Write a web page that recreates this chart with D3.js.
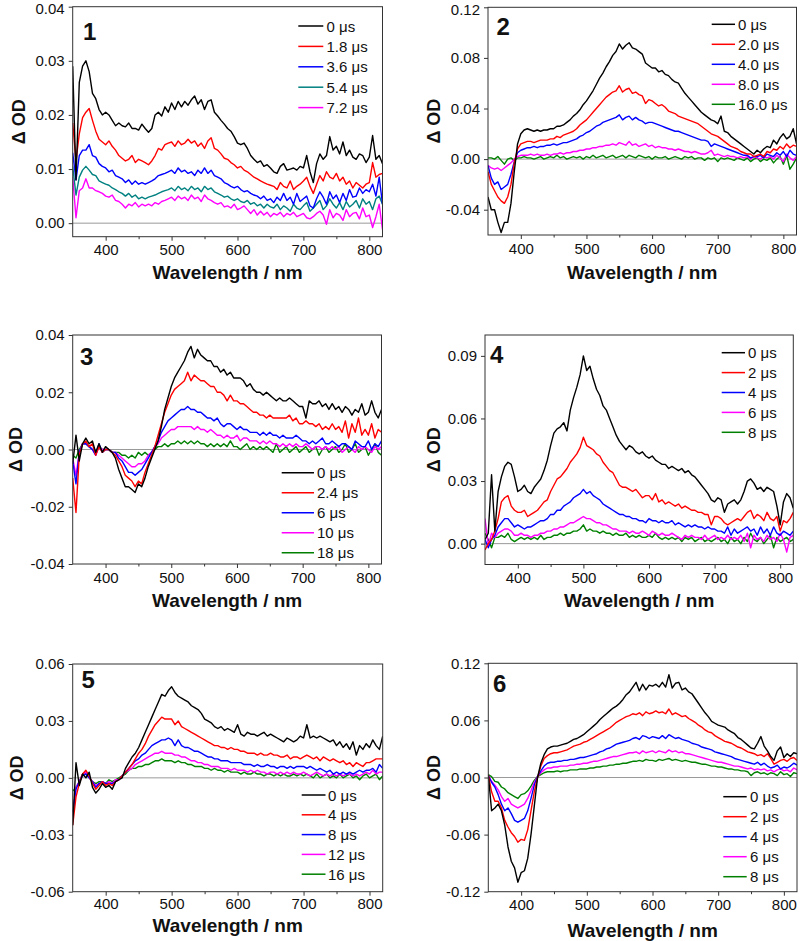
<!DOCTYPE html>
<html><head><meta charset="utf-8">
<script src="https://cdn.jsdelivr.net/npm/d3@7"></script>
<style>
body{margin:0;background:#fff;}
text{font-family:"Liberation Sans",Arial,sans-serif;fill:#111;}
</style></head><body>
<svg id="chart" width="800" height="941"></svg>
<script>
// ---------- DATA ----------
const wavelength = [350,355,360,365,370,375,380,385,390,395,400,405,410,415,420,425,430,435,440,445,450,455,460,465,470,475,480,485,490,495,500,505,510,515,520,525,530,535,540,545,550,555,560,565,570,575,580,585,590,595,600,605,610,615,620,625,630,635,640,645,650,655,660,665,670,675,680,685,690,695,700,705,710,715,720,725,730,735,740,745,750,755,760,765,770,775,780,785,790,795,800,805,810,815,820];
const xTicks = [400,500,600,700,800];
const xMinorTicks = [450,550,650,750];

// Panel 1
const p1Labels = ["0 μs","1.8 μs","3.6 μs","5.4 μs","7.2 μs"];
const p1YTicks = [0,0.01,0.02,0.03,0.04];
const p1_0 = [.029,.008,.026,.029,.030,.028,.024,.023,.021,.020,
.0205,.020,.019,.018,.0185,.018,.0178,.0185,.0175,.0175,
.0172,.0183,.0175,.0168,.0175,.020,.0205,.0198,.0215,.0205,
.0222,.021,.0225,.0215,.0225,.0218,.0228,.0235,.022,.0228,
.021,.0225,.0228,.0205,.0198,.019,.0183,.0175,.017,.016,
.0148,.0145,.0148,.0138,.0125,.0118,.0112,.0115,.0105,.0108,
.0102,.0095,.0092,.0105,.011,.0098,.010,.0102,.0098,.0105,
.0102,.0125,.0095,.0075,.011,.0128,.0118,.0125,.016,.0135,
.0142,.0128,.015,.0125,.0135,.0122,.0118,.0128,.0125,.0112,
.0122,.0162,.0118,.0125,.011];
const p1_1 = [.0185,.0115,.0165,.0195,.0205,.0212,.019,.017,.0155,.015,
.0145,.0152,.0142,.0135,.0125,.012,.0115,.0118,.0125,.0112,
.0118,.0115,.0112,.0108,.0115,.0125,.0138,.0135,.0145,.0148,
.015,.0142,.0152,.0145,.0148,.0155,.0148,.0152,.0142,.0148,
.0138,.0152,.0158,.0138,.0135,.0128,.012,.0118,.0112,.0108,
.0102,.0105,.0098,.0095,.009,.0085,.0082,.0078,.0075,.0072,
.007,.0068,.0062,.0075,.0068,.0065,.0078,.0062,.0068,.0072,
.0078,.0085,.0068,.0055,.0072,.0088,.0078,.0095,.0085,.0082,
.0092,.0078,.0085,.0072,.0078,.0065,.0075,.007,.0065,.0072,
.0075,.0112,.0085,.009,.0092];
const p1_2 = [.013,.008,.0125,.0135,.0135,.0145,.0125,.0122,.011,.0105,
.0102,.0095,.0098,.0088,.0085,.0082,.0075,.008,.0072,.0078,
.0072,.0075,.0072,.0075,.0078,.0082,.0088,.009,.0092,.0095,
.0098,.0092,.0102,.0095,.0098,.0092,.0095,.0088,.0098,.0092,
.0102,.0092,.0098,.0088,.0085,.0082,.0075,.0072,.0068,.0065,
.0068,.0062,.0058,.006,.0055,.0052,.005,.0045,.005,.0042,
.0045,.0038,.0048,.0042,.0055,.0042,.0048,.0035,.0055,.004,
.0045,.005,.0032,.0028,.0045,.0058,.0048,.0035,.0058,.0045,
.0052,.0038,.0055,.0042,.0062,.0048,.005,.0065,.0055,.0062,
.0058,.0072,.005,.0085,.0035];
const p1_3 = [.0105,.0052,.0085,.0098,.0105,.0098,.009,.0088,.0078,.0075,
.0072,.007,.0065,.0062,.0058,.0055,.005,.0055,.0048,.0052,
.0045,.0048,.0045,.0048,.005,.0052,.0055,.0058,.006,.0062,
.0065,.006,.0068,.0062,.0065,.006,.0068,.0062,.0065,.0058,
.0068,.0062,.0065,.0058,.0055,.0052,.0048,.005,.0045,.0042,
.0045,.004,.0038,.0042,.0035,.0038,.0032,.0035,.0028,.0035,
.003,.0028,.0035,.0025,.0032,.0028,.0022,.0035,.0028,.0025,
.0032,.0038,.0022,.0028,.0035,.0042,.0025,.0032,.0045,.0035,
.0028,.0038,.0025,.004,.003,.0035,.0042,.0028,.0045,.0035,
.004,.0025,.0045,.005,.0035];
const p1_4 = [.0085,.001,.006,.0065,.0082,.0065,.0065,.006,.0058,.0055,
.005,.0048,.0052,.0042,.004,.0035,.0028,.0035,.0032,.0038,
.003,.0035,.0032,.0035,.0032,.0038,.0035,.004,.0042,.0045,
.0048,.0042,.005,.0045,.0048,.0042,.0052,.0045,.0048,.004,
.0052,.0045,.0042,.0038,.0035,.0038,.003,.0032,.0028,.0035,
.0025,.0028,.0032,.0025,.0018,.0025,.0015,.0022,.0015,.002,
.0012,.0018,.0015,.002,.0012,.0018,.0015,.002,.0012,.0015,
.0018,.001,.0008,.0012,.0018,.0022,.0015,-.0002,.0025,.001,
.0018,.0015,.0005,.0025,.0012,.0018,.002,.0008,.0028,.0012,
.0015,-.0008,.0012,.0035,-.0012];

// Panel 2
const p2Labels = ["0 μs","2.0 μs","4.0 μs","8.0 μs","16.0 μs"];
const p2YTicks = [-0.04,0,0.04,0.08,0.12];
const p2_0 = [-.03,-.04,-.04,-.05,-.058,-.05,-.05,-.035,-.01,.012,
.02,.023,.024,.023,.022,.023,.022,.023,.023,.024,
.024,.026,.026,.027,.029,.031,.034,.036,.039,.043,
.046,.05,.054,.059,.064,.068,.073,.077,.082,.085,
.091,.087,.09,.092,.088,.087,.085,.083,.076,.074,
.072,.072,.069,.07,.067,.066,.063,.061,.06,.056,
.052,.049,.046,.043,.04,.037,.035,.033,.031,.03,
.028,.034,.022,.021,.018,.016,.014,.012,.01,.008,
.006,.004,.007,.005,.008,.01,.009,.015,.012,.017,
.02,.016,.018,.024,.012];
const p2_1 = [-.01,-.02,-.025,-.03,-.033,-.035,-.03,-.02,-.003,.008,
.012,.013,.014,.014,.013,.014,.015,.015,.015,.016,
.016,.018,.017,.019,.02,.021,.022,.024,.027,.029,
.031,.034,.037,.04,.043,.046,.049,.051,.053,.054,
.058,.053,.055,.056,.052,.053,.051,.05,.044,.047,
.046,.044,.042,.043,.041,.038,.037,.036,.034,.033,
.032,.031,.03,.029,.028,.026,.024,.022,.02,.019,
.018,.016,.014,.012,.01,.009,.008,.006,.005,.004,
.004,.002,.003,.004,.002,.006,.005,.008,.007,.01,
.008,.012,.009,.011,.01];
const p2_2 = [-.005,-.015,-.02,-.018,-.024,-.022,-.02,-.012,-.002,.005,
.007,.008,.009,.009,.01,.009,.01,.01,.011,.011,
.012,.011,.012,.013,.013,.014,.015,.016,.018,.019,
.021,.022,.024,.026,.027,.029,.03,.031,.032,.033,
.035,.031,.033,.034,.031,.033,.031,.03,.028,.029,
.029,.028,.027,.026,.025,.024,.023,.022,.022,.021,
.02,.019,.018,.017,.016,.015,.015,.014,.01,.012,
.011,.01,.009,.008,.007,.006,.005,.004,.003,.003,
.001,.002,.002,.003,.001,.004,.003,.002,.005,.003,
.006,.002,.007,.004,.003];
const p2_3 = [-.005,-.007,-.008,-.007,-.009,-.007,-.005,-.003,0,.002,
.003,.003,.003,.004,.003,.004,.003,.003,.004,.003,
.004,.004,.005,.004,.005,.005,.006,.006,.007,.007,
.008,.008,.009,.009,.01,.01,.011,.011,.012,.011,
.013,.012,.011,.014,.011,.012,.01,.011,.012,.01,
.011,.009,.01,.009,.009,.008,.008,.007,.008,.007,
.006,.006,.005,.006,.005,.004,.004,.005,.007,.003,
.004,.003,.002,.003,.002,.002,.001,.002,.001,.002,
0,.002,.001,0,.002,.001,.002,0,.003,.001,
-.002,.004,.001,-.001,.002];
const p2_4 = [.001,.001,0,.002,-.001,-.004,0,.001,-.001,.001,
.001,.002,.001,.001,0,.001,.002,0,.001,.002,
.001,.003,.001,.002,0,.001,.002,.001,.002,0,
.002,.001,.003,.001,.002,.003,.001,.002,.003,.001,
.002,.003,.001,.003,.002,.001,.003,.002,.001,.002,
0,.002,.001,.001,.002,0,.001,.002,.001,0,
.002,.001,.002,0,.001,.001,-.001,.001,0,.001,
-.002,.001,0,.001,0,-.001,.001,0,-.001,.001,
-.002,0,.001,-.002,0,-.001,.001,-.003,0,.002,
-.004,.003,-.008,-.004,.001];

// Panel 3
const p3Labels = ["0 μs","2.4 μs","6 μs","10 μs","18 μs"];
const p3YTicks = [-0.04,-0.02,0,0.02,0.04];
const p3_0 = [-.005,.005,-.004,.002,.004,.002,.003,-.001,.002,-.001,
.001,0,-.001,-.003,-.007,-.01,-.013,-.013,-.014,-.015,
-.012,-.013,-.01,-.006,-.003,0,.003,.008,.014,.018,
.022,.025,.027,.029,.031,.034,.036,.032,.035,.033,
.032,.031,.031,.029,.029,.027,.028,.026,.027,.025,
.025,.025,.024,.022,.023,.021,.02,.02,.019,.02,
.019,.018,.017,.018,.017,.017,.018,.017,.016,.015,
.015,.011,.017,.016,.016,.017,.015,.016,.014,.016,
.014,.015,.013,.015,.014,.012,.014,.013,.016,.012,
.013,.017,.013,.011,.014];
const p3_1 = [-.01,-.022,-.002,.002,.003,.001,.002,-.002,.001,-.001,
0,0,-.001,-.002,-.004,-.006,-.009,-.01,-.011,-.013,
-.011,-.012,-.008,-.005,-.002,.001,.005,.009,.013,.016,
.019,.021,.022,.023,.024,.027,.024,.026,.025,.024,
.024,.023,.022,.022,.02,.02,.019,.017,.019,.017,
.017,.016,.016,.015,.014,.013,.013,.012,.012,.011,
.012,.011,.011,.011,.011,.011,.012,.01,.011,.009,
.009,.01,.009,.009,.008,.009,.007,.008,.007,.009,
.007,.008,.006,.01,.004,.009,.006,.011,.005,.007,
.005,.009,.004,.007,.006];
const p3_2 = [-.004,-.012,-.001,.002,.002,.001,0,-.002,.002,-.001,
0,0,-.001,-.001,-.003,-.004,-.006,-.008,-.008,-.009,
-.008,-.007,-.005,-.003,-.001,.001,.003,.006,.008,.01,
.011,.012,.013,.014,.014,.015,.014,.014,.013,.013,
.012,.011,.011,.01,.011,.009,.008,.009,.009,.008,
.007,.008,.007,.007,.006,.006,.006,.005,.006,.005,
.006,.005,.005,.004,.005,.004,.004,.004,.005,.004,
.003,.003,.002,.003,.002,.003,.004,.002,.002,.003,
.002,.001,.002,.002,.001,0,.003,.002,.001,.001,
.003,0,.002,.001,.003];
const p3_3 = [-.003,-.009,-.001,.002,.002,.001,0,-.002,.001,0,
0,0,-.001,-.001,-.002,-.003,-.004,-.005,-.006,-.006,
-.005,-.005,-.004,-.002,-.001,.001,.002,.004,.005,.006,
.007,.007,.008,.008,.008,.008,.008,.007,.008,.007,
.007,.006,.007,.006,.005,.005,.004,.005,.004,.004,
.005,.003,.004,.004,.003,.003,.003,.002,.003,.002,
.003,.002,.002,.001,.002,.001,.002,.001,.002,.001,
.001,.002,.001,0,.001,.001,0,.001,0,.001,
0,.001,-.001,0,.001,0,-.001,.001,0,.001,
0,-.001,.001,0,.001];
const p3_4 = [-.002,-.003,0,.002,.002,.001,0,-.001,.001,0,
0,0,-.001,-.001,-.001,-.002,-.002,-.003,-.002,-.003,
-.001,-.002,-.001,-.002,-.001,0,.001,.001,.002,.001,
.002,.002,.003,.002,.003,.002,.003,.002,.003,.002,
.002,.001,.002,.001,.002,.001,.002,.001,.003,.001,
.001,0,.001,.002,0,.001,0,.001,0,.001,
0,-.001,.002,-.001,0,.001,-.001,0,.001,-.001,
0,.001,-.001,0,.001,-.002,0,.001,-.001,0,
.001,-.001,0,.002,-.001,0,.002,-.001,0,.001,
-.002,0,.002,-.001,-.002];

// Panel 4
const p4Labels = ["0 μs","2 μs","4 μs","6 μs","8 μs"];
const p4YTicks = [0,0.03,0.06,0.09];
const p4_0 = [.002,.005,.033,.006,.025,.032,.037,.039,.038,.032,
.025,.026,.028,.025,.024,.027,.029,.031,.035,.04,
.047,.053,.055,.056,.058,.054,.064,.07,.075,.081,
.09,.083,.085,.079,.074,.071,.066,.064,.06,.056,
.052,.049,.047,.045,.047,.046,.044,.043,.044,.042,
.041,.042,.04,.039,.038,.038,.036,.037,.036,.035,
.036,.034,.035,.033,.032,.03,.028,.026,.024,.021,
.02,.022,.021,.015,.019,.02,.021,.019,.021,.025,
.03,.031,.029,.026,.027,.025,.027,.026,.025,.018,
.009,.02,.024,.022,.017];
const p4_1 = [-.003,0,.002,.006,.012,.02,.022,.023,.018,.016,
.015,.015,.016,.013,.014,.015,.016,.018,.02,.021,
.025,.028,.031,.032,.034,.036,.039,.041,.043,.046,
.051,.047,.046,.045,.043,.042,.039,.037,.035,.034,
.031,.028,.027,.027,.026,.025,.026,.024,.022,.023,
.023,.021,.024,.02,.021,.019,.02,.019,.018,.019,
.017,.018,.017,.016,.016,.015,.015,.014,.014,.009,
.013,.013,.012,.01,.009,.01,.011,.012,.011,.013,
.015,.016,.012,.014,.013,.011,.015,.012,.011,.013,
.006,.011,.01,.012,.015];
const p4_2 = [.002,-.002,.002,.004,.008,.01,.012,.012,.01,.008,
.009,.008,.007,.008,.008,.009,.01,.011,.011,.012,
.014,.014,.016,.016,.018,.019,.02,.022,.023,.024,
.026,.024,.025,.023,.022,.021,.019,.018,.017,.016,
.015,.014,.014,.013,.013,.012,.012,.011,.011,.01,
.012,.011,.011,.01,.011,.01,.01,.011,.009,.01,
.009,.008,.009,.008,.009,.008,.008,.007,.008,.007,
.007,.006,.006,.005,.008,.004,.007,.005,.006,.007,
.008,.006,.007,.004,.008,.005,.007,.004,.008,.005,
.004,.006,.005,.004,.006];
const p4_3 = [.012,-.001,.005,.003,.005,.006,.007,.007,.006,.004,
.004,.005,.004,.004,.003,.004,.004,.005,.005,.006,
.006,.007,.007,.008,.008,.009,.01,.01,.011,.012,
.013,.012,.012,.011,.01,.01,.009,.009,.008,.007,
.007,.006,.006,.006,.005,.006,.005,.005,.006,.005,
.004,.006,.005,.004,.005,.004,.004,.005,.004,.003,
.002,.004,.003,.004,.003,.003,.002,.004,.002,.003,
.004,.002,.003,.002,.004,.002,.003,.002,.004,.001,
.005,-.002,.004,.002,.003,.001,.004,.002,.003,.001,
.005,.002,-.004,.003,.004];
const p4_4 = [.005,.002,-.002,.003,.003,.004,.003,.005,.002,.001,
.002,.003,.002,.003,.002,.003,.002,.004,.002,.003,
.003,.004,.004,.005,.004,.005,.005,.006,.006,.007,
.009,.006,.007,.006,.006,.005,.006,.005,.005,.004,
.005,.004,.004,.005,.003,.004,.003,.004,.003,.003,
.004,.003,.005,.003,.002,.003,.002,.003,.002,.003,
.001,.003,.002,.003,.001,.002,.003,.001,.002,.001,
.002,.003,.001,.002,0,.003,.001,.002,0,.003,
.001,.005,.002,.001,.003,0,.002,.004,-.002,.003,
.001,.002,.003,.001,.002];

// Panel 5
const p5Labels = ["0 μs","4 μs","8 μs","12 μs","16 μs"];
const p5YTicks = [-0.06,-0.03,0,0.03,0.06];
const p5_0 = [-.025,.008,-.004,.002,0,.003,-.005,-.008,-.006,-.003,
-.005,-.004,-.006,-.002,-.001,0,.005,.008,.011,.013,
.016,.02,.024,.028,.032,.036,.04,.044,.043,.046,
.048,.045,.043,.042,.041,.04,.038,.037,.036,.034,
.031,.03,.029,.027,.026,.027,.025,.026,.025,.024,
.028,.023,.022,.024,.023,.023,.022,.023,.024,.022,
.023,.022,.021,.02,.019,.021,.02,.019,.02,.022,
.021,.028,.021,.022,.021,.022,.021,.02,.019,.02,
.017,.019,.016,.018,.015,.019,.012,.017,.015,.018,
.016,.02,.017,.015,.022];
const p5_1 = [-.025,-.01,-.003,.002,.004,.001,-.003,-.006,-.004,-.002,
-.004,-.003,-.004,-.002,-.001,.001,.003,.005,.007,.01,
.013,.015,.018,.022,.025,.028,.03,.032,.031,.031,
.031,.028,.03,.027,.026,.025,.024,.023,.022,.021,
.02,.019,.018,.017,.017,.016,.016,.015,.016,.015,
.015,.014,.014,.013,.013,.013,.012,.013,.012,.012,
.013,.012,.012,.011,.011,.012,.01,.011,.011,.01,
.011,.012,.011,.01,.011,.009,.011,.01,.009,.01,
.009,.008,.009,.007,.008,.006,.008,.007,.006,.008,
.008,.009,.01,.01,.01];
const p5_2 = [-.018,-.006,-.002,.001,.002,0,-.002,-.005,-.003,-.002,
-.003,-.003,-.003,-.002,-.001,.001,.003,.005,.007,.009,
.01,.012,.013,.015,.017,.018,.019,.02,.02,.021,
.02,.017,.02,.017,.016,.016,.015,.014,.014,.013,
.012,.011,.011,.01,.01,.009,.009,.009,.008,.008,
.008,.008,.007,.007,.007,.006,.007,.006,.006,.007,
.006,.006,.005,.006,.006,.005,.006,.005,.006,.006,
.006,.005,.006,.005,.004,.005,.004,.003,.004,.002,
.003,.002,.003,.002,.003,.002,.003,.004,.003,.004,
.004,.005,.003,.007,.005];
const p5_3 = [-.02,-.005,-.002,.002,.003,0,-.002,-.004,-.003,-.002,
-.003,-.002,-.003,-.001,-.001,.001,.003,.004,.005,.007,
.008,.009,.01,.011,.012,.013,.013,.014,.013,.013,
.013,.012,.012,.011,.011,.01,.009,.009,.008,.008,
.007,.007,.006,.006,.006,.005,.005,.005,.004,.005,
.004,.004,.004,.003,.004,.003,.004,.003,.003,.002,
.003,.003,.002,.003,.002,.003,.002,.003,.002,.002,
.003,.002,.001,.002,.003,.002,.001,.002,.001,.002,
.001,.002,.001,.002,.002,.001,.002,.001,.002,.003,
.002,.004,.002,.003,.003];
const p5_4 = [-.007,-.005,-.002,.002,.002,0,-.002,-.003,-.002,-.002,
-.003,-.001,-.002,-.001,0,.001,.002,.004,.005,.005,
.006,.006,.007,.007,.008,.009,.009,.01,.009,.009,
.009,.008,.009,.008,.008,.007,.007,.006,.006,.006,
.005,.005,.004,.005,.004,.004,.003,.004,.003,.003,
.003,.002,.003,.002,.002,.003,.002,.002,.001,.002,
.002,.001,.002,.001,.002,.001,.001,.002,.001,.002,
.001,.002,.001,0,.002,0,.001,.002,0,.001,
0,.002,0,.001,.002,0,.001,-.001,.001,.002,
0,.001,.002,-.001,.001];

// Panel 6
const p6Labels = ["0 μs","2 μs","4 μs","6 μs","8 μs"];
const p6YTicks = [-0.12,-0.06,0,0.06,0.12];
const p6_0 = [.003,-.035,-.032,-.028,-.035,-.05,-.073,-.088,-.095,-.11,
-.1,-.098,-.085,-.06,-.03,0,.015,.024,.03,.032,
.033,.033,.034,.035,.036,.038,.04,.041,.043,.045,
.048,.051,.054,.057,.061,.064,.067,.07,.073,.075,
.078,.082,.087,.09,.095,.1,.091,.098,.092,.097,
.096,.098,.095,.1,.095,.108,.094,.099,.1,.092,
.094,.09,.088,.083,.078,.073,.068,.064,.059,.057,
.055,.054,.053,.05,.048,.046,.042,.04,.037,.034,
.031,.03,.036,.043,.033,.028,.022,.018,.028,.032,
.021,.025,.022,.026,.025];
const p6_1 = [.003,-.015,-.025,-.025,-.032,-.045,-.052,-.058,-.062,-.068,
-.065,-.066,-.055,-.035,-.015,0,.012,.02,.023,.025,
.026,.026,.027,.028,.029,.031,.033,.034,.035,.037,
.038,.04,.042,.044,.046,.048,.05,.052,.055,.058,
.06,.062,.064,.065,.067,.066,.068,.065,.069,.067,
.068,.07,.068,.069,.067,.072,.066,.068,.066,.064,
.065,.062,.06,.058,.055,.053,.05,.048,.047,.044,
.042,.04,.038,.037,.036,.034,.032,.031,.029,.027,
.026,.025,.023,.024,.022,.025,.02,.014,.016,.018,
.019,.017,.02,.021,.018];
const p6_2 = [.002,-.005,-.01,-.018,-.028,-.035,-.032,-.038,-.045,-.047,
-.045,-.043,-.035,-.022,-.008,.001,.007,.012,.015,.016,
.016,.017,.017,.018,.018,.019,.019,.02,.021,.021,
.022,.023,.024,.025,.027,.028,.03,.031,.033,.035,
.036,.037,.038,.039,.041,.042,.04,.044,.043,.041,
.043,.042,.041,.044,.041,.045,.043,.041,.042,.04,
.039,.038,.036,.035,.034,.032,.031,.03,.029,.027,
.026,.025,.024,.023,.022,.02,.019,.018,.017,.016,
.015,.014,.016,.013,.015,.012,.01,.011,.013,.009,
.011,.01,.012,.015,.013];
const p6_3 = [.002,-.004,-.008,-.013,-.02,-.025,-.022,-.028,-.03,-.032,
-.03,-.028,-.022,-.014,-.005,.001,.005,.008,.01,.01,
.011,.011,.012,.012,.012,.013,.013,.014,.014,.015,
.015,.016,.017,.017,.018,.019,.02,.021,.022,.022,
.023,.024,.025,.026,.026,.027,.025,.028,.026,.027,
.028,.026,.028,.027,.026,.029,.027,.028,.026,.027,
.025,.025,.024,.023,.022,.021,.02,.019,.018,.017,
.016,.016,.015,.014,.013,.012,.012,.011,.01,.009,
.01,.008,.009,.008,.009,.007,.008,.006,.008,.009,
.007,.008,.006,.01,.008];
const p6_4 = [.003,.001,-.004,-.005,-.01,-.012,-.016,-.018,-.02,-.022,
-.018,-.017,-.014,-.009,-.003,.001,.003,.005,.006,.006,
.006,.007,.006,.007,.007,.008,.008,.008,.009,.009,
.009,.01,.01,.011,.011,.012,.012,.013,.013,.014,
.014,.015,.015,.016,.017,.017,.018,.017,.019,.018,
.018,.017,.019,.018,.019,.02,.018,.019,.018,.017,
.018,.017,.016,.016,.015,.014,.014,.013,.012,.012,
.011,.011,.01,.009,.009,.008,.008,.007,.007,.006,
.002,.005,.006,.004,.005,.003,.005,.004,.002,.006,
.003,.004,.001,.005,.004];

// ---------- STYLE / LAYOUT ----------
const colorsP1 = ["#000000","#ff0000","#0000ff","#008080","#ff00ff"];
const colorsStd = ["#000000","#ff0000","#0000ff","#ff00ff","#008000"];

const panels = [
 {num:"1", L:72.7, R:382.5, T:6.7, B:236.7, yDom:[-0.0025,0.04], yTicks:p1YTicks,
  series:[p1_0,p1_1,p1_2,p1_3,p1_4], labels:p1Labels, colors:colorsP1,
  leg:{x1:298.3,x2:323.3,tx:326.5,y0:26,dy:20.4}, numPos:[83,40], ylabX:19, xlabY:279, xpad:4},
 {num:"2", L:488, R:796.5, T:7.3, B:235, yDom:[-0.06,0.12], yTicks:p2YTicks,
  series:[p2_0,p2_1,p2_2,p2_3,p2_4], labels:p2Labels, colors:colorsStd,
  leg:{x1:711.7,x2:735,tx:738,y0:24.3,dy:20}, numPos:[496.5,35], ylabX:434, xlabY:278.5, xpad:4},
 {num:"3", L:72.7, R:381.5, T:335, B:564, yDom:[-0.04,0.04], yTicks:p3YTicks,
  series:[p3_0,p3_1,p3_2,p3_3,p3_4], labels:p3Labels, colors:colorsStd,
  leg:{x1:281.7,x2:314,tx:317,y0:472.7,dy:20}, numPos:[80,365], ylabX:16, xlabY:606.5, xpad:4},
 {num:"4", L:485, R:793.3, T:335, B:564.5, yDom:[-0.01,0.10], yTicks:p4YTicks,
  series:[p4_0,p4_1,p4_2,p4_3,p4_4], labels:p4Labels, colors:colorsStd,
  leg:{x1:721.7,x2:745,tx:748,y0:352.7,dy:19.9}, numPos:[490,363], ylabX:434, xlabY:606.5, xpad:4},
 {num:"5", L:72.7, R:382.7, T:664, B:891.7, yDom:[-0.06,0.06], yTicks:p5YTicks,
  series:[p5_0,p5_1,p5_2,p5_3,p5_4], labels:p5Labels, colors:colorsStd,
  leg:{x1:301.7,x2:325.5,tx:328,y0:795,dy:19.8}, numPos:[81.5,688], ylabX:17, xlabY:932, xpad:2.5},
 {num:"6", L:488.3, R:797, T:663.3, B:891.7, yDom:[-0.12,0.12], yTicks:p6YTicks,
  series:[p6_0,p6_1,p6_2,p6_3,p6_4], labels:p6Labels, colors:colorsStd,
  leg:{x1:723.3,x2:746.7,tx:750,y0:796.7,dy:20}, numPos:[493,691.5], ylabX:434, xlabY:937, xpad:4}
];

const svg = d3.select("#chart");
svg.append("rect").attr("width",800).attr("height",941).attr("fill","#fff");
const frameColor = "#333";
const fmt = d => d.toFixed(2);

panels.forEach((p,i) => {
  const x = d3.scaleLinear().domain([350,820]).range([p.L,p.R]);
  const y = d3.scaleLinear().domain(p.yDom).range([p.B,p.T]);
  const g = svg.append("g");
  const clipId = "clip"+i;
  svg.append("defs").append("clipPath").attr("id",clipId)
    .append("rect").attr("x",p.L).attr("y",p.T).attr("width",p.R-p.L).attr("height",p.B-p.T);

  // zero line
  g.append("line").attr("x1",p.L).attr("x2",p.R).attr("y1",y(0)).attr("y2",y(0))
    .attr("stroke","#9a9a9a").attr("stroke-width",1);

  // data lines
  const line = d3.line().x((d,k)=>x(wavelength[k])).y(d=>y(d));
  const lg = g.append("g").attr("clip-path",`url(#${clipId})`);
  for (let s = p.series.length-1; s >= 0; s--) {
    lg.append("path").datum(p.series[s]).attr("d",line)
      .attr("fill","none").attr("stroke",p.colors[s]).attr("stroke-width",1.4)
      .attr("stroke-linejoin","round");
  }

  // axes
  const xa = g.append("g").attr("transform",`translate(0,${p.B})`)
    .call(d3.axisBottom(x).tickValues(xTicks).tickSize(4).tickSizeOuter(0).tickPadding(p.xpad));
  const xm = g.append("g").attr("transform",`translate(0,${p.B})`)
    .call(d3.axisBottom(x).tickValues(xMinorTicks).tickSize(2.5).tickSizeOuter(0).tickFormat(""));
  const ya = g.append("g").attr("transform",`translate(${p.L},0)`)
    .call(d3.axisLeft(y).tickValues(p.yTicks).tickSize(4).tickSizeOuter(0).tickPadding(4).tickFormat(fmt));
  [xa,xm,ya].forEach(a=>{
    a.select(".domain").remove();
    a.selectAll("line").attr("stroke",frameColor);
    a.selectAll("text").attr("font-size",15).attr("font-family","Liberation Sans, Arial, sans-serif").attr("fill","#111");
  });
  // keep the topmost y label inside the canvas
  ya.selectAll(".tick").filter(d => y(d) < 12).select("text").attr("dy","0.45em");

  // frame
  g.append("rect").attr("x",p.L).attr("y",p.T).attr("width",p.R-p.L).attr("height",p.B-p.T)
    .attr("fill","none").attr("stroke",frameColor).attr("stroke-width",1);

  // axis titles
  g.append("text").attr("x",(p.L+p.R)/2).attr("y",p.xlabY).attr("text-anchor","middle")
    .attr("font-size",19).attr("font-weight","bold").text("Wavelength / nm");
  g.append("text").attr("transform",`translate(${p.ylabX},${(p.T+p.B)/2}) rotate(-90)`)
    .attr("text-anchor","middle").attr("dominant-baseline","central")
    .attr("font-size",18).attr("font-weight","bold").text("Δ OD");

  // panel number
  g.append("text").attr("x",p.numPos[0]).attr("y",p.numPos[1])
    .attr("font-size",24).attr("font-weight","bold").text(p.num);

  // legend
  p.labels.forEach((lab,k)=>{
    const yy = p.leg.y0 + k*p.leg.dy;
    g.append("line").attr("x1",p.leg.x1).attr("x2",p.leg.x2).attr("y1",yy).attr("y2",yy)
      .attr("stroke",p.colors[k]).attr("stroke-width",1.5);
    g.append("text").attr("x",p.leg.tx).attr("y",yy).attr("dominant-baseline","central")
      .attr("font-size",15).text(lab);
  });
});
</script>
</body></html>
